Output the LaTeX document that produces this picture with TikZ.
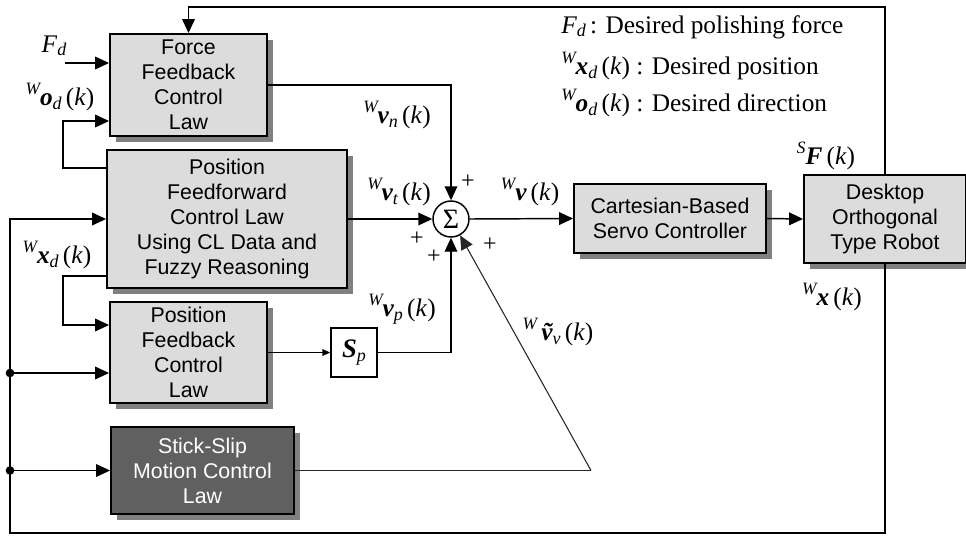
\documentclass[tikz,border=0pt]{standalone}
\usepackage{fontspec}
\setmainfont{Liberation Serif}
\newfontfamily\boxfont{Liberation Sans}
\usetikzlibrary{arrows.meta,shadows,calc}

\definecolor{boxgray}{HTML}{DCDCDC}
\definecolor{darkbox}{HTML}{606060}
\definecolor{shadegray}{HTML}{808080}

% symbol helpers for the signal labels
\newcommand{\pre}[1]{\raisebox{1.0ex}{\fontsize{13}{13}\selectfont\itshape #1}}
\newcommand{\bv}[1]{{\bfseries\itshape #1}}
\newcommand{\lo}[1]{\raisebox{-0.3ex}{\fontsize{13.5}{13.5}\selectfont\itshape #1}}
\newcommand{\kk}{\,(\textit{k})}

\begin{document}
\begin{tikzpicture}[x=0.75pt,y=-0.75pt,
  blk/.style={draw=black,line width=1.4pt,fill=boxgray,inner sep=0pt,align=center,
    font=\boxfont\fontsize{16}{18.75}\selectfont,
    drop shadow={shadow xshift=4.5pt,shadow yshift=-4.5pt,fill=shadegray,opacity=1}},
  wire/.style={line width=1.1pt},
  arr/.style={wire,-{Triangle[length=10.5pt,width=9.5pt]}},
  sarr/.style={wire,-{Triangle[length=6pt,width=5pt]}},
  thinwire/.style={line width=0.8pt,draw=black!85},
  lbl/.style={font=\fontsize{19}{21}\selectfont,inner sep=0pt},
  plus/.style={font=\fontsize{18}{18}\selectfont,inner sep=0pt},
  dot/.style={circle,fill=black,inner sep=0pt,minimum size=6.5pt}
]
\useasboundingbox (0,0) rectangle (966,536);

% blocks
\node[blk,minimum width=117.75pt,minimum height=76.5pt] (force) at (188.5,85) {Force\\Feedback\\Control\\Law};
\node[blk,minimum width=180pt,minimum height=103.5pt] (ff) at (227,219) {Position\\Feedforward\\Control Law\\Using CL Data and\\Fuzzy Reasoning};
\node[blk,minimum width=117.75pt,minimum height=75.75pt] (pf) at (188.5,352.5) {Position\\Feedback\\Control\\Law};
\node[blk,fill=darkbox,text=white,minimum width=137.25pt,minimum height=65.25pt] (ss) at (202.5,470.5) {Stick-Slip\\Motion Control\\Law};
\node[blk,minimum width=144pt,minimum height=51.75pt] (cart) at (670,218.5) {Cartesian-Based\\Servo Controller};
\node[blk,minimum width=121.5pt,minimum height=66pt] (robot) at (885,219) {Desktop\\Orthogonal\\Type Robot};
\node[draw=black,line width=1.1pt,fill=white,inner sep=0pt,minimum width=34.5pt,minimum height=36.75pt,
  font=\fontsize{20}{20}\selectfont] (sp) at (354,352.5) {\bv{S}\lo{p}};
\node[draw=black,line width=1.1pt,fill=white,circle,inner sep=0pt,minimum size=27pt,
  font=\fontsize{21}{21}\selectfont] (sum) at (451,219) {Σ};

% routing points
\coordinate (fd0) at (65,63);
\coordinate (od0) at (63,168);
\coordinate (od1) at (63,121);
\coordinate (xd0) at (63,276);
\coordinate (xd1) at (63,325);
\coordinate (tl) at (188.5,7);
\coordinate (bl) at (10,533);
\coordinate (j1) at (10,373);
\coordinate (j2) at (10,470.5);
\coordinate (vv) at (591,470.5);

% inputs on the left
\draw[arr] (fd0) -- (fd0 -| force.west);
\draw[arr] (od0 -| ff.west) -- (od0) -- (od1) -- (od1 -| force.west);
\draw[arr] (xd0 -| ff.west) -- (xd0) -- (xd1) -- (xd1 -| pf.west);
\draw[arr] (j1) -- (j1 -| pf.west);
\draw[arr] (j2) -- (j2 -| ss.west);
\node[dot] at (j1) {};
\node[dot] at (j2) {};

% feedback loops around the robot
\draw[arr] (robot.north) |- (tl) -- (force.north);
\draw[arr] (robot.south) |- (bl) |- (ff.west);

% velocity terms into the summing junction
\draw[arr] (force.east) -| (sum.north);
\draw[arr] (ff.east) -- (sum.west);
\draw[sarr] (pf.east) -- (sp.west);
\draw[arr] (sp.east) -| (sum.south);
\draw[thinwire] (ss.east) -- (vv);
\draw[thinwire,-{Triangle[length=10.5pt,width=9.5pt]}] (vv) -- (sum);
\draw[arr] (sum.east) -- (cart.west);
\draw[arr] (cart.east) -- (robot.west);

% signs
\node[plus] at (468,182) {+};
\node[plus] at (417,239) {+};
\node[plus] at (434,257) {+};
\node[plus] at (490,245) {+};

% signal labels
\node[lbl] at (54,46) {\textit{F}\lo{d}};
\node[lbl] at (60,97) {\pre{W}\bv{o}\lo{d}\kk};
\node[lbl] at (57,255) {\pre{W}\bv{x}\lo{d}\kk};
\node[lbl] at (397,115) {\pre{W}\bv{v}\lo{n}\kk};
\node[lbl] at (399,192) {\pre{W}\bv{v}\lo{t}\kk};
\node[lbl] at (530,192) {\pre{W}\bv{v}\kk};
\node[lbl] at (402,309) {\pre{W}\bv{v}\lo{p}\kk};
\node[lbl] at (558,332) {\pre{W}\,\bv{\~v}\lo{v}\kk};
\node[lbl] at (826,156) {\pre{S}\bv{F}\kk};
\node[lbl] at (832,297) {\pre{W}\bv{x}\kk};

% legend
\node[lbl,anchor=west] at (561,27) {\textit{F}\lo{d}\,: Desired polishing force};
\node[lbl,anchor=west] at (561,66) {\pre{W}\bv{x}\lo{d}\kk\ : Desired position};
\node[lbl,anchor=west] at (561,103) {\pre{W}\bv{o}\lo{d}\kk\ : Desired direction};
\end{tikzpicture}
\end{document}
